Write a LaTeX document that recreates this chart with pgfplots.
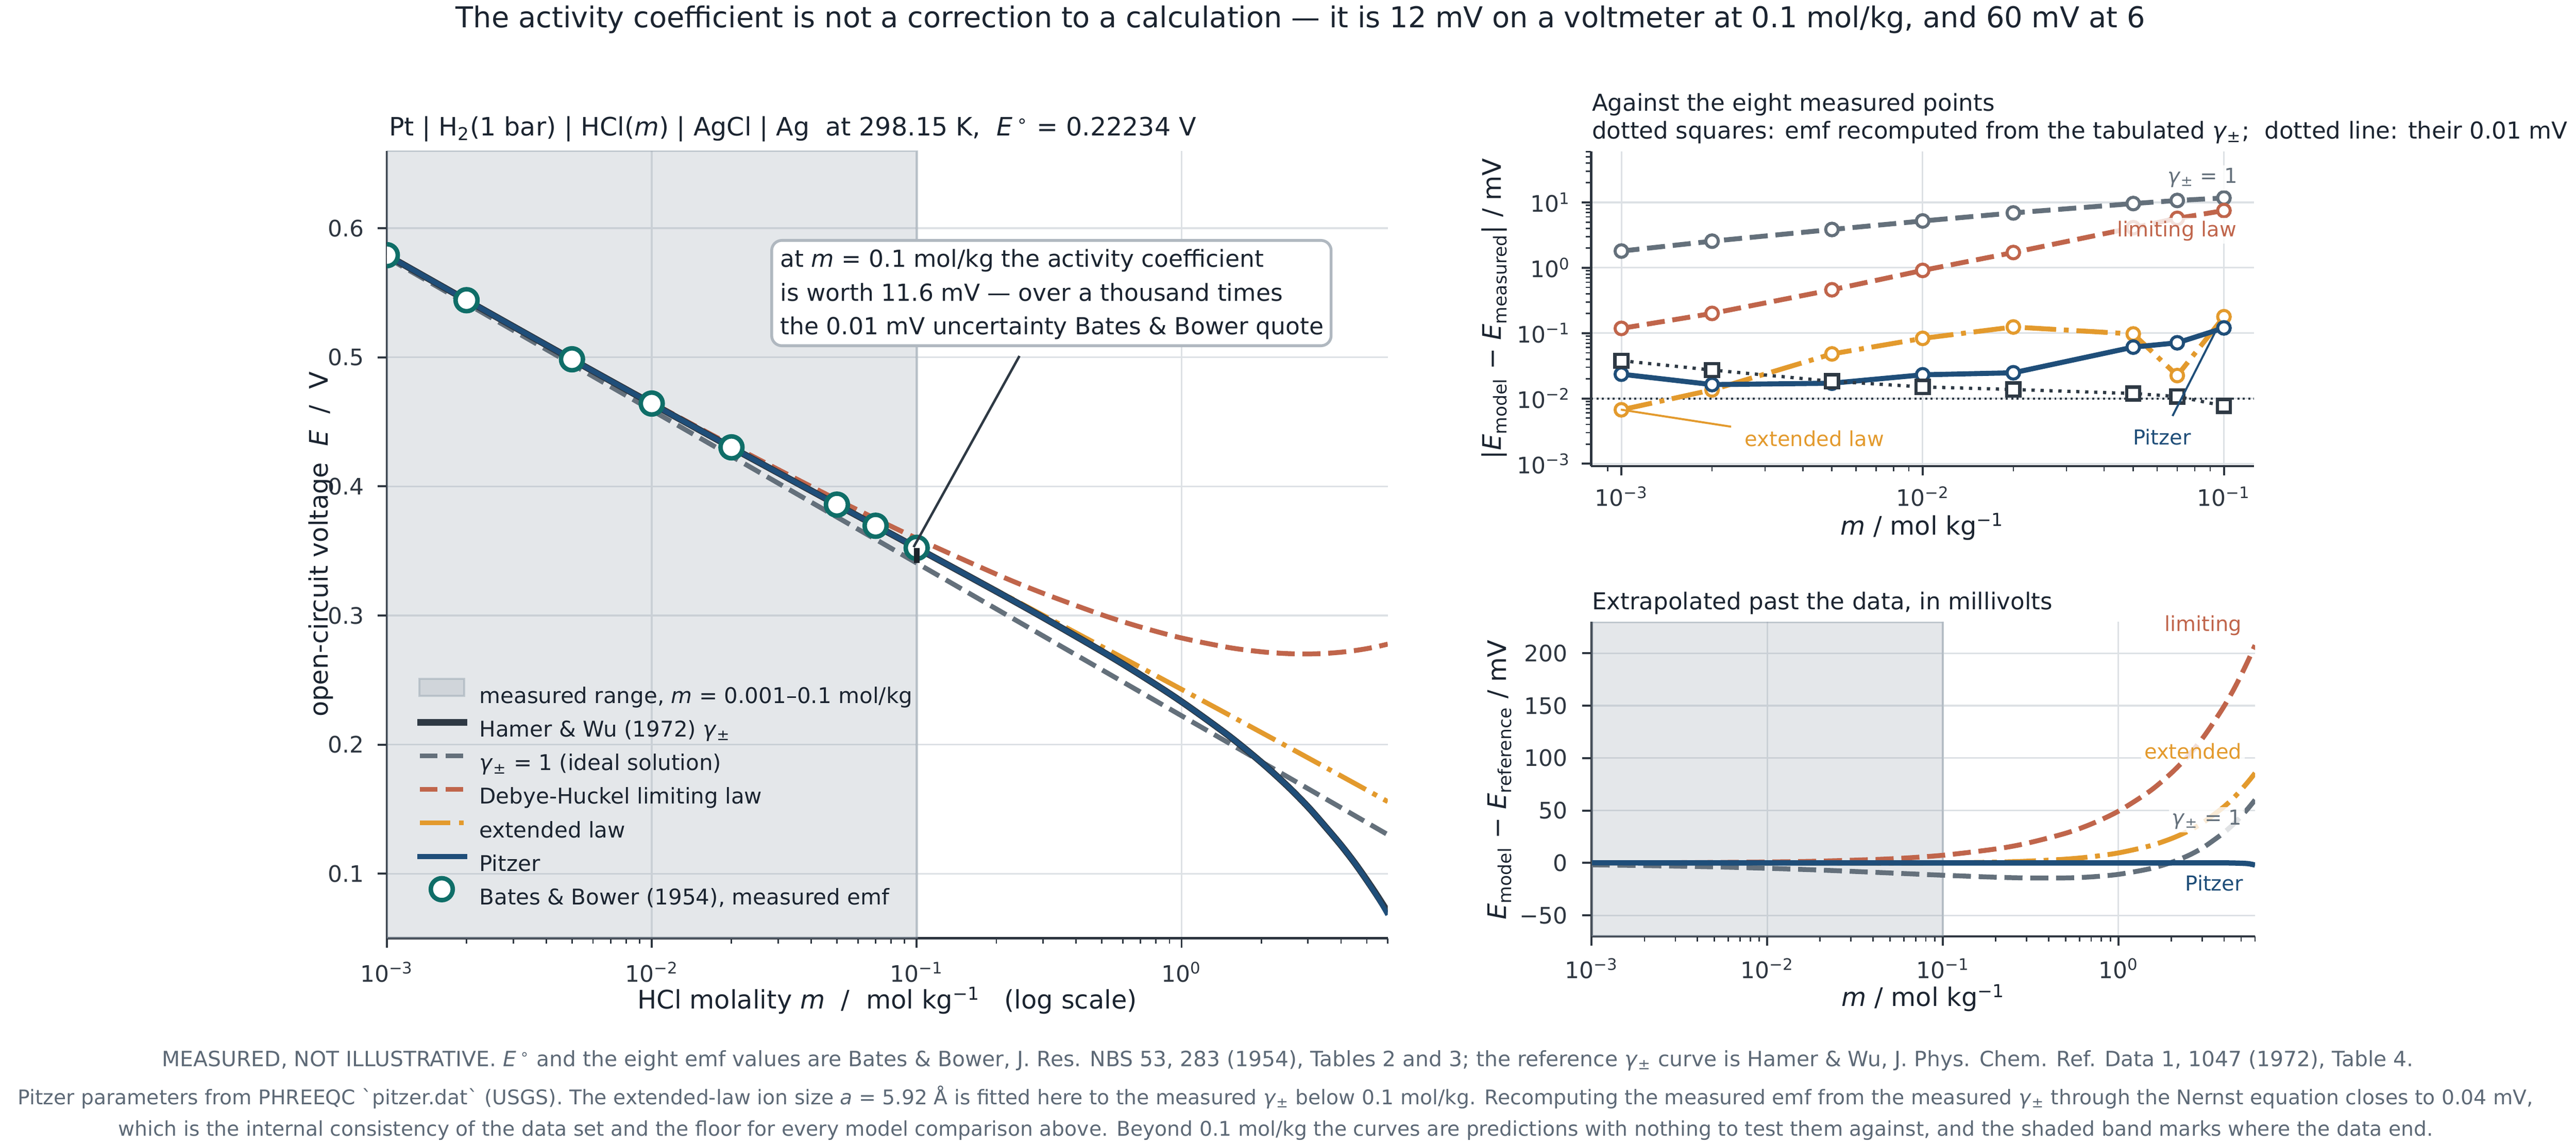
\documentclass[border=0pt]{standalone}
\usepackage{fontspec}
\setmainfont{DejaVu Sans}
\usepackage{pgfplots}
\usepackage{pgfplotstable}
\pgfplotsset{compat=1.18}

\definecolor{cgray}{HTML}{64707B}
\definecolor{cred}{HTML}{C0654B}
\definecolor{corange}{HTML}{E39A2D}
\definecolor{cblue}{HTML}{1F4E79}
\definecolor{cdark}{HTML}{2E3944}
\definecolor{cteal}{HTML}{0F6E68}
\definecolor{ctext}{HTML}{1B2430}
\definecolor{cfoot}{HTML}{5D6976}
\definecolor{cgrid}{HTML}{DDE1E5}
\definecolor{cband}{HTML}{939FAB}
\definecolor{cspine}{HTML}{2E3640}
\definecolor{cbox}{HTML}{B0B8C0}
\definecolor{cbar}{HTML}{1C232B}

% main panel: m, ideal (gamma=1), Hamer & Wu reference, limiting law, extended law, Pitzer  (V)
\pgfplotstableread{
m      ideal    refE     LL       ext      pitz
0.001  0.57729  0.57912  0.57920  0.57909  0.57913
0.002  0.54168  0.54421  0.54437  0.54416  0.54421
0.005  0.49459  0.49837  0.49885  0.49833  0.49837
0.01   0.45898  0.46411  0.46500  0.46402  0.46411
0.02   0.42336  0.43016  0.43188  0.43004  0.43016
0.05   0.37627  0.38584  0.38974  0.38566  0.38584
0.1    0.34066  0.35238  0.35971  0.35245  0.35238
0.2    0.30504  0.31867  0.33198  0.31944  0.31867
0.3    0.28421  0.29852  0.31720  0.30018  0.29852
0.5    0.25796  0.27227  0.30055  0.27589  0.27227
0.7    0.24067  0.25397  0.29107  0.25985  0.25397
1      0.22234  0.23323  0.28258  0.24279  0.23323
1.5    0.20151  0.20715  0.27528  0.22332  0.20715
2      0.18672  0.18626  0.27191  0.20942  0.18626
2.5    0.17526  0.16821  0.27050  0.19862  0.16825
3      0.16589  0.15178  0.27022  0.18976  0.15185
3.5    0.15797  0.13612  0.27066  0.18225  0.13618
4      0.15111  0.12200  0.27158  0.17574  0.12205
4.5    0.14505  0.10842  0.27283  0.16997  0.10835
5      0.13964  0.09508  0.27433  0.16481  0.09478
5.5    0.13474  0.08239  0.27601  0.16013  0.08169
6      0.13027  0.07018  0.27782  0.15586  0.06818
}\maintab

% Bates & Bower measured emf (V)
\pgfplotstableread{
m      E
0.001  0.57907
0.002  0.54420
0.005  0.49844
0.01   0.46416
0.02   0.43023
0.05   0.38586
0.07   0.36949
0.1    0.35238
}\meastab

% top right: |E_model - E_measured| (mV)
\pgfplotstableread{
m      ideal  LL     ext     pitz    recomp
0.001  1.80   0.118  0.0067  0.0235  0.0378
0.002  2.55   0.200  0.0135  0.0163  0.0272
0.005  3.85   0.46   0.048   0.0171  0.0183
0.01   5.20   0.91   0.083   0.0230  0.0150
0.02   6.90   1.71   0.124   0.0247  0.0137
0.05   9.60   4.1    0.097   0.061   0.0119
0.07   10.7   5.7    0.0224  0.071   0.0107
0.1    11.7   7.5    0.178   0.120   0.0077
}\residtab

% bottom right: E_model - E_reference (mV)
\pgfplotstableread{
m      ideal   LL      ext     pitz
0.001  -1.83   0.075   -0.035  0.01
0.002  -2.53   0.167   -0.049  0.00
0.005  -3.78   0.475   -0.040  0.00
0.01   -5.13   0.895   -0.086  0.00
0.02   -6.80   1.717   -0.121  0.00
0.05   -9.57   3.895   -0.189  0.00
0.1    -11.72  7.324   0.068   0.00
0.2    -13.63  13.31   0.773   0.00
0.3    -14.31  18.69   1.666   0.00
0.5    -14.31  28.29   3.621   0.00
0.7    -13.30  37.10   5.879   0.00
1      -10.89  49.35   9.556   0.00
1.5    -5.64   68.13   16.16   0.00
2      0.46    85.65   23.16   0.00
2.5    7.05    102.29  30.41   0.04
3      14.11   118.44  37.98   0.07
3.5    21.85   134.54  46.14   0.06
4      29.11   149.58  53.73   0.05
4.5    36.64   164.42  61.55   -0.07
5      44.56   179.25  69.73   -0.30
5.5    52.35   193.62  77.74   -0.70
6      60.09   207.64  85.68   -2.00
}\extab

\pgfplotsset{
  base/.style={
    scale only axis,
    axis x line*=bottom, axis y line*=left,
    axis line style={cspine, line width=1.1bp},
    tick style={cspine, line width=1bp},
    minor tick style={cspine, line width=0.7bp},
    major tick length=4.6bp, minor tick length=2.6bp,
    tick align=outside,
    grid=major,
    major grid style={cgrid, line width=0.8bp},
    ticklabel style={font=\fontsize{11.2}{13}\selectfont, text=cspine, inner sep=0pt},
    /pgf/number format/assume math mode=true,
    clip marker paths=true,
  },
  sgray/.style={cgray, line width=2.4bp, dash pattern=on 8.9bp off 3.8bp},
  sred/.style={cred, line width=2.4bp, dash pattern=on 8.9bp off 3.8bp},
  sorange/.style={corange, line width=2.4bp, dash pattern=on 15.4bp off 3.8bp on 2.4bp off 3.8bp},
  sblue/.style={cblue, line width=2.5bp},
}
\newcommand{\ten}[1]{10\textsuperscript{#1}}
\newcommand{\gpm}{\textit{γ}\textsubscript{±}}
\newcommand{\lrule}{\rule[-4.5bp]{0pt}{13.5bp}}
\newcommand{\limg}{\path[draw=none, fill=none] (0bp,-4.5bp) rectangle (24.5bp,9bp);}

\begin{document}
\begin{tikzpicture}
\path[use as bounding box] (0bp,0bp) rectangle (1267.44bp,-563.28bp);

% ================= main panel =================
\begin{axis}[base,
  at={(190.32bp,-461.76bp)}, anchor=south west,
  width=492.48bp, height=387.6bp,
  xmode=log, xmin=0.001, xmax=6, ymin=0.05, ymax=0.66,
  xtick={0.001,0.01,0.1,1},
  xticklabels={\ten{−3},\ten{−2},\ten{−1},\ten{0}},
  minor xtick={0.002,0.003,0.004,0.005,0.006,0.007,0.008,0.009,0.02,0.03,0.04,0.05,0.06,0.07,0.08,0.09,0.2,0.3,0.4,0.5,0.6,0.7,0.8,0.9,2,3,4,5,6},
  ytick={0.1,0.2,0.3,0.4,0.5,0.6},
  yticklabels={0.1,0.2,0.3,0.4,0.5,0.6},
  xticklabel style={anchor=base, yshift=-16.8bp},
  yticklabel style={anchor=east, xshift=-6.5bp},
  legend cell align=left,
  legend style={at={(0.0273,0.039)}, anchor=south west, draw=none, fill=none,
    inner sep=0pt, outer sep=0pt, row sep=2.24bp, column sep=4.4bp,
    font=\fontsize{10.7}{12}\selectfont, text=ctext,
    nodes={inner sep=0pt}},
]
\addlegendimage{legend image code/.code={\limg
  \path[fill=cband, fill opacity=0.25, draw=cband, draw opacity=0.45, line width=1bp] (1bp,0bp) rectangle (23bp,8.3bp);}}
\addlegendentry{\lrule measured range, \textit{m} = 0.001–0.1 mol/kg}
\addlegendimage{legend image code/.code={\limg
  \draw[cdark, line width=3.2bp] (0bp,3.4bp) -- (24.5bp,3.4bp);}}
\addlegendentry{\lrule Hamer \& Wu (1972) \gpm}
\addlegendimage{legend image code/.code={\limg
  \draw[cgray, line width=2.3bp, dash pattern=on 8.6bp off 4.1bp] (1.2bp,3.4bp) -- (22.5bp,3.4bp);}}
\addlegendentry{\lrule \gpm\ = 1 (ideal solution)}
\addlegendimage{legend image code/.code={\limg
  \draw[cred, line width=2.3bp, dash pattern=on 8.6bp off 4.1bp] (1.2bp,3.4bp) -- (22.5bp,3.4bp);}}
\addlegendentry{\lrule Debye-Huckel limiting law}
\addlegendimage{legend image code/.code={\limg
  \draw[corange, line width=2.3bp, dash pattern=on 15.1bp off 4.1bp on 2.4bp off 4bp] (1.2bp,3.4bp) -- (22.8bp,3.4bp);}}
\addlegendentry{\lrule extended law}
\addlegendimage{legend image code/.code={\limg
  \draw[cblue, line width=2.4bp] (0bp,3.4bp) -- (24.5bp,3.4bp);}}
\addlegendentry{\lrule Pitzer}
\addlegendimage{legend image code/.code={\limg
  \draw[overlay, cteal, fill=white, line width=2.2bp] (12bp,3.8bp) circle[radius=5.4bp];}}
\addlegendentry{\lrule Bates \& Bower (1954), measured emf}

\addplot[draw=cband, draw opacity=0.45, line width=1.2bp, fill=cband, fill opacity=0.25, forget plot]
  coordinates {(0.001,0.05) (0.1,0.05) (0.1,0.66) (0.001,0.66)} -- cycle;
\addplot[sgray, smooth, forget plot] table[x=m, y=ideal] {\maintab};
\addplot[sred, smooth, forget plot] table[x=m, y=LL] {\maintab};
\addplot[sorange, smooth, forget plot] table[x=m, y=ext] {\maintab};
\addplot[cdark, line width=3.3bp, smooth, forget plot] table[x=m, y=refE] {\maintab};
\addplot[cblue, line width=2.4bp, smooth, forget plot] table[x=m, y=pitz] {\maintab};
\addplot[only marks, mark=*, mark size=5.4bp, mark options={draw=cteal, fill=white, line width=2.2bp}, forget plot]
  table[x=m, y=E] {\meastab};
\addplot[cbar, line width=2.9bp, forget plot] coordinates {(0.1,0.34066) (0.1,0.35238)};
\end{axis}

% ================= top right panel =================
\begin{axis}[base,
  at={(782.88bp,-229.44bp)}, anchor=south west,
  width=326.16bp, height=155.04bp,
  xmode=log, ymode=log,
  xmin=0.000794, xmax=0.1259, ymin=0.000918, ymax=60.8,
  xtick={0.001,0.01,0.1},
  xticklabels={\ten{−3},\ten{−2},\ten{−1}},
  minor xtick={0.0009,0.002,0.003,0.004,0.005,0.006,0.007,0.008,0.009,0.02,0.03,0.04,0.05,0.06,0.07,0.08,0.09},
  ytick={0.001,0.01,0.1,1,10},
  yticklabels={\ten{−3},\ten{−2},\ten{−1},\ten{0},\ten{1}},
  minor ytick={0.002,0.003,0.004,0.005,0.006,0.007,0.008,0.009,0.02,0.03,0.04,0.05,0.06,0.07,0.08,0.09,0.2,0.3,0.4,0.5,0.6,0.7,0.8,0.9,2,3,4,5,6,7,8,9,20,30,40,50,60},
  xticklabel style={anchor=base, yshift=-15.1bp},
  yticklabel style={anchor=east, xshift=-5.5bp},
]
\addplot[cdark, line width=1bp, dash pattern=on 1bp off 1.65bp] coordinates {(0.000794,0.01) (0.1259,0.01)};
\addplot[sgray, mark=*, mark size=3.1bp, mark options={solid, fill=white, draw=cgray, line width=1.5bp}] table[x=m, y=ideal] {\residtab};
\addplot[sred, mark=*, mark size=3.1bp, mark options={solid, fill=white, draw=cred, line width=1.5bp}] table[x=m, y=LL] {\residtab};
\addplot[sorange, mark=*, mark size=3.1bp, mark options={solid, fill=white, draw=corange, line width=1.5bp}] table[x=m, y=ext] {\residtab};
\addplot[sblue, mark=*, mark size=3.1bp, mark options={solid, fill=white, draw=cblue, line width=1.5bp}] table[x=m, y=pitz] {\residtab};
\addplot[cdark, line width=1.6bp, dash pattern=on 1.6bp off 2.8bp, mark=square*, mark size=3.2bp, mark options={solid, fill=white, draw=cdark, line width=1.6bp}] table[x=m, y=recomp] {\residtab};
\end{axis}

% ================= bottom right panel =================
\begin{axis}[base,
  at={(783.12bp,-460.8bp)}, anchor=south west,
  width=326.4bp, height=154.8bp,
  xmode=log, xmin=0.001, xmax=6, ymin=-70, ymax=230,
  xtick={0.001,0.01,0.1,1},
  xticklabels={\ten{−3},\ten{−2},\ten{−1},\ten{0}},
  minor xtick={0.002,0.003,0.004,0.005,0.006,0.007,0.008,0.009,0.02,0.03,0.04,0.05,0.06,0.07,0.08,0.09,0.2,0.3,0.4,0.5,0.6,0.7,0.8,0.9,2,3,4,5,6},
  ytick={-50,0,50,100,150,200},
  yticklabels={−50,0,50,100,150,200},
  xticklabel style={anchor=base, yshift=-16bp},
  yticklabel style={anchor=east, xshift=-7bp},
]
\addplot[draw=cband, draw opacity=0.45, line width=1.2bp, fill=cband, fill opacity=0.25]
  coordinates {(0.001,-70) (0.1,-70) (0.1,230) (0.001,230)} -- cycle;
\addplot[sgray, smooth] table[x=m, y=ideal] {\extab};
\addplot[sred, smooth] table[x=m, y=LL] {\extab};
\addplot[sorange, smooth] table[x=m, y=ext] {\extab};
\addplot[sblue, line width=2.6bp, smooth] table[x=m, y=pitz] {\extab};
\end{axis}

% ================= texts and annotations (pixel coordinates) =================
\begin{scope}[x=0.24bp, y=-0.24bp, every node/.style={inner sep=0pt, text=ctext}]
% suptitle
\node[anchor=base, font=\fontsize{14.2}{17}\selectfont] at (2666,56)
  {The activity coefficient is not a correction to a calculation — it is 12 mV on a voltmeter at 0.1 mol/kg, and 60 mV at 6};
% main panel title
\node[anchor=base west, font=\fontsize{12.5}{15}\selectfont] at (797,278)
  {Pt | H\textsubscript{2}(1 bar) | HCl(\textit{m}) | AgCl | Ag\ \ at 298.15 K,\ \ \textit{E}\,\textsuperscript{∘} = 0.22234 V};
% main axis labels
\node[anchor=base, font=\fontsize{12.6}{15}\selectfont] at (1819,2069)
  {HCl molality \textit{m}\ \ /\ \ mol kg\textsuperscript{−1}\ \ \ (log scale)};
\node[anchor=center, rotate=90, font=\fontsize{12.6}{15}\selectfont] at (658,1116)
  {open-circuit voltage\ \ \textit{E}\ \ /\ \ V};
% annotation box
\draw[rounded corners=5bp, fill=white, draw=cbox, line width=1.4bp] (1582,493) rectangle (2729,709);
\begin{scope}[every node/.style={inner sep=0pt, text=ctext, anchor=base west, font=\fontsize{11.6}{14}\selectfont}]
\node at (1599,548) {at \textit{m} = 0.1 mol/kg the activity coefficient};
\node at (1599,617) {is worth 11.6 mV — over a thousand times};
\node at (1599,686) {the 0.01 mV uncertainty Bates \& Bower quote};
\end{scope}
\draw[cdark, line width=1.2bp] (2090,730) -- (1873,1122);

% top right titles and labels
\node[anchor=base west, font=\fontsize{11.5}{14}\selectfont] at (3263,228) {Against the eight measured points};
\node[anchor=base west, font=\fontsize{11.5}{14}\selectfont] at (3263,285)
  {dotted squares: emf recomputed from the tabulated \gpm;\ \ dotted line: their 0.01 mV};
\node[anchor=base, font=\fontsize{12.6}{15}\selectfont] at (3941,1097) {\textit{m} / mol kg\textsuperscript{−1}};
\node[anchor=center, rotate=90, font=\fontsize{12.6}{15}\selectfont] at (3064,633)
  {|\textit{E}\textsubscript{model} − \textit{E}\textsubscript{measured}| / mV};
\begin{scope}[every node/.style={inner sep=1.5bp, font=\fontsize{10.2}{12}\selectfont, fill=white, fill opacity=0.8, text opacity=1}]
\node[anchor=base east, text=cgray] at (4594,376) {\gpm\ = 1};
\node[anchor=base east, text=cred] at (4592,485) {limiting law};
\node[anchor=base west, text=corange] at (3570,915) {extended law};
\node[anchor=base west, text=cblue] at (4366,912) {Pitzer};
\end{scope}
\draw[corange, line width=1bp] (3549,875) -- (3323,840);
\draw[cblue, line width=1bp] (4454,853) -- (4545,674);

% bottom right titles and labels
\node[anchor=base west, font=\fontsize{11.5}{14}\selectfont] at (3263,1250) {Extrapolated past the data, in millivolts};
\node[anchor=base, font=\fontsize{12.6}{15}\selectfont] at (3943,2063) {\textit{m} / mol kg\textsuperscript{−1}};
\node[anchor=center, rotate=90, font=\fontsize{12.6}{15}\selectfont] at (3074,1599)
  {\textit{E}\textsubscript{model} − \textit{E}\textsubscript{reference} / mV};
\begin{scope}[every node/.style={inner sep=1.5bp, font=\fontsize{10.2}{12}\selectfont, fill=white, fill opacity=0.8, text opacity=1}]
\node[anchor=base east, text=cred] at (4603,1294) {limiting};
\node[anchor=base east, text=corange] at (4603,1556) {extended};
\node[anchor=base east, text=cgray] at (4603,1692) {\gpm\ = 1};
\node[anchor=base east, text=cblue] at (4606,1827) {Pitzer};
\end{scope}

% footnote
\begin{scope}[every node/.style={inner sep=0pt, text=cfoot, anchor=base, font=\fontsize{10.0}{12}\selectfont}]
\node[font=\fontsize{10.4}{12}\selectfont] at (2640,2187) {MEASURED, NOT ILLUSTRATIVE. \textit{E}\,\textsuperscript{∘} and the eight emf values are Bates \& Bower, J. Res. NBS 53, 283 (1954), Tables 2 and 3; the reference \gpm\ curve is Hamer \& Wu, J. Phys. Chem. Ref. Data 1, 1047 (1972), Table 4.};
\node at (2615,2265) {Pitzer parameters from PHREEQC \textasciigrave pitzer.dat\textasciigrave\ (USGS). The extended-law ion size \textit{a} = 5.92 Å is fitted here to the measured \gpm\ below 0.1 mol/kg. Recomputing the measured emf from the measured \gpm\ through the Nernst equation closes to 0.04 mV,};
\node at (2615,2329) {which is the internal consistency of the data set and the floor for every model comparison above. Beyond 0.1 mol/kg the curves are predictions with nothing to test them against, and the shaded band marks where the data end.};
\end{scope}
\end{scope}
\end{tikzpicture}
\end{document}
